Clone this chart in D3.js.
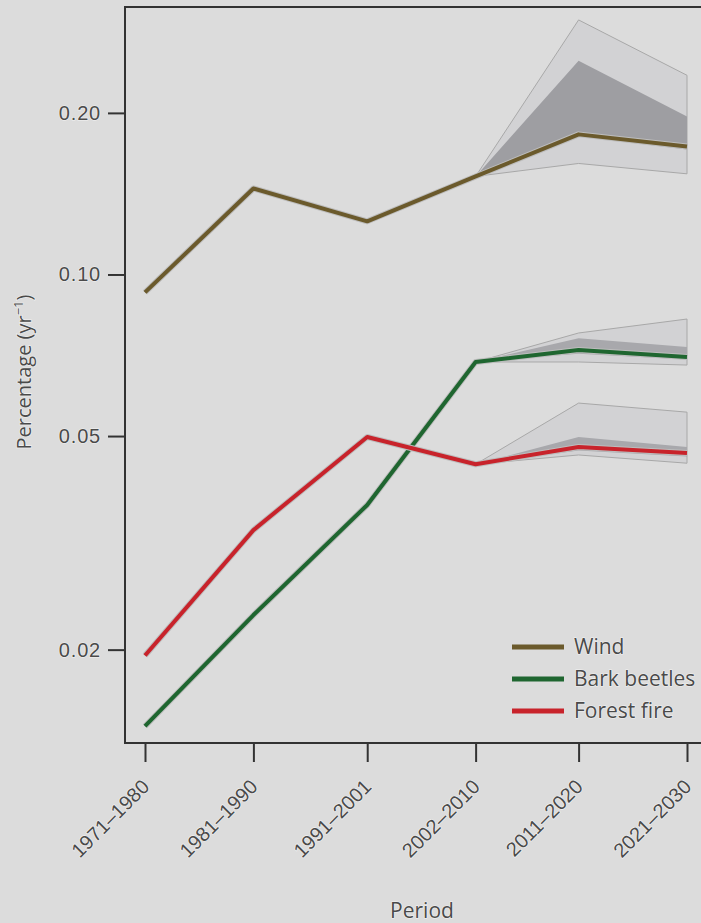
<!DOCTYPE html>
<html>
<head>
<meta charset="utf-8">
<script src="https://cdn.jsdelivr.net/npm/d3@7"></script>
<style>
  body { margin: 0; background: #dcdcdc; }
  svg { display: block; font-family: "Open Sans", "DejaVu Sans", sans-serif; }
  .lbl { paint-order: stroke; stroke: #f2f2f2; stroke-width: 1.2px; }
</style>
</head>
<body>
<svg width="701" height="923"></svg>
<script>
// periods and their mid years (x positions follow the mid year)
const periods = ["1971–1980", "1981–1990", "1991–2001", "2002–2010", "2011–2020", "2021–2030"];
const midYears = [1975.5, 1985.5, 1996, 2006, 2015.5, 2025.5];
const yTicks = [0.02, 0.05, 0.10, 0.20];

const wind = [0.0926, 0.1446, 0.1256, 0.1523, 0.1824, 0.1732];
const beetles = [0.0144, 0.0232, 0.0372, 0.0687, 0.0723, 0.0702];
const fire = [0.0195, 0.0334, 0.0498, 0.0443, 0.0477, 0.0465];

// uncertainty bands for 2006, 2015.5, 2025.5
const bandYears = [2006, 2015.5, 2025.5];
const windOuterHi = [0.1523, 0.298, 0.235];
const windOuterLo = [0.1523, 0.161, 0.154];
const windInnerHi = [0.1523, 0.250, 0.197];
const windInnerLo = [0.1523, 0.181, 0.171];
const beetlesOuterHi = [0.0687, 0.0778, 0.0826];
const beetlesOuterLo = [0.0687, 0.0687, 0.0678];
const beetlesInnerHi = [0.0687, 0.0761, 0.0733];
const beetlesInnerLo = [0.0687, 0.0712, 0.0694];
const fireOuterHi = [0.0443, 0.0576, 0.0554];
const fireOuterLo = [0.0443, 0.0461, 0.0445];
const fireInnerHi = [0.0443, 0.0498, 0.0477];
const fireInnerLo = [0.0443, 0.0470, 0.0458];

const seriesNames = ["Wind", "Bark beetles", "Forest fire"];
const colors = ["#6b5a2c", "#1f6630", "#c8232b"];

const svg = d3.select("svg");

const x = d3.scaleLinear().domain([1975.5, 2025.5]).range([145, 687]);
const y = d3.scaleLog().domain([0.0134, 0.315]).range([743, 7]);

// frame
svg.append("path")
  .attr("d", "M701,7H125V743H701")
  .attr("fill", "none")
  .attr("stroke", "#333")
  .attr("stroke-width", 2);

// y axis
const yAxis = d3.axisLeft(y).tickValues(yTicks).tickSize(16).tickPadding(7)
  .tickFormat(d3.format(".2f"));
const gy = svg.append("g").attr("transform", "translate(124,0)").call(yAxis);
gy.select(".domain").remove();
gy.selectAll("line").attr("stroke", "#333").attr("stroke-width", 2);
gy.selectAll("text").attr("class", "lbl").attr("fill", "#4a4a4a")
  .attr("font-size", 20).attr("letter-spacing", 0.8);

// x axis
const xAxis = d3.axisBottom(x).tickValues(midYears).tickSize(18)
  .tickFormat((d, i) => periods[i]);
const gx = svg.append("g").attr("transform", "translate(0,744)").call(xAxis);
gx.select(".domain").remove();
gx.selectAll("line").attr("stroke", "#333").attr("stroke-width", 2);
gx.selectAll("text")
  .attr("class", "lbl")
  .attr("fill", "#4a4a4a").attr("font-size", 20)
  .attr("text-anchor", "end")
  .attr("dy", 0).attr("y", 0)
  .attr("transform", "translate(5,44) rotate(-45)");

// bands
const area = d3.area()
  .x(d => x(d.year)).y0(d => y(d.lo)).y1(d => y(d.hi));

function band(hi, lo, fill, stroke) {
  const rows = bandYears.map((yr, i) => ({year: yr, hi: hi[i], lo: lo[i]}));
  svg.append("path")
    .attr("d", area(rows))
    .attr("fill", fill)
    .attr("stroke", stroke || "none")
    .attr("stroke-width", 1);
}

band(windOuterHi, windOuterLo, "#d2d2d4", "#a8a8a8");
band(windInnerHi, windInnerLo, "#9e9ea2");
band(beetlesOuterHi, beetlesOuterLo, "#d2d2d4", "#a8a8a8");
band(beetlesInnerHi, beetlesInnerLo, "#a8a8ac");
band(fireOuterHi, fireOuterLo, "#d2d2d4", "#a8a8a8");
band(fireInnerHi, fireInnerLo, "#a8a8ac");

// lines
const line = d3.line().x((d, i) => x(midYears[i])).y(d => y(d));
[wind, beetles, fire].forEach((s, k) => {
  svg.append("path")
    .attr("d", line(s))
    .attr("fill", "none")
    .attr("stroke", "#bdbdbd")
    .attr("stroke-width", 6)
    .attr("stroke-linejoin", "round");
  svg.append("path")
    .attr("d", line(s))
    .attr("fill", "none")
    .attr("stroke", colors[k])
    .attr("stroke-width", 4)
    .attr("stroke-linejoin", "round");
});

// legend
const legend = svg.append("g").attr("transform", "translate(512,647)");
seriesNames.forEach((name, i) => {
  const g = legend.append("g").attr("transform", `translate(0,${i * 32})`);
  g.append("line").attr("x1", 0).attr("x2", 52)
    .attr("stroke", colors[i]).attr("stroke-width", 5);
  g.append("text").attr("class", "lbl").attr("x", 62).attr("y", 7)
    .attr("fill", "#4a4a4a").attr("font-size", 21).text(name);
});

// axis titles
svg.append("text")
  .attr("class", "lbl")
  .attr("x", 422).attr("y", 918)
  .attr("text-anchor", "middle")
  .attr("fill", "#4a4a4a").attr("font-size", 21)
  .text("Period");

const yt = svg.append("text")
  .attr("class", "lbl")
  .attr("transform", "translate(31,372) rotate(-90)")
  .attr("text-anchor", "middle")
  .attr("fill", "#4a4a4a").attr("font-size", 20);
yt.append("tspan").text("Percentage (yr");
yt.append("tspan").attr("dy", -8).attr("font-size", 13).text("−1");
yt.append("tspan").attr("dy", 8).text(")");
</script>
</body>
</html>
